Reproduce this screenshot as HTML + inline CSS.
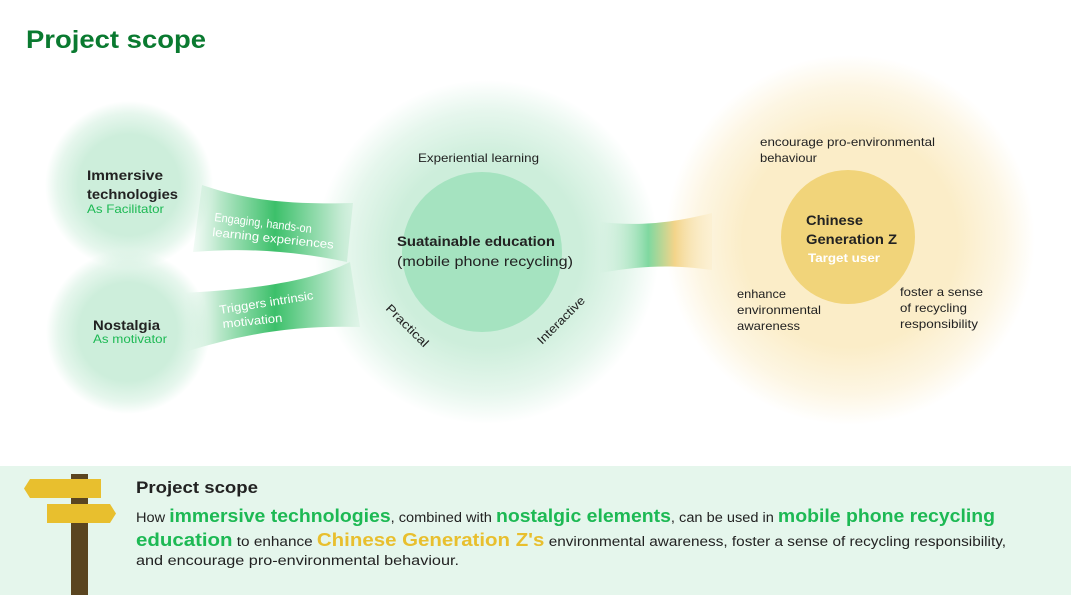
<!DOCTYPE html>
<html><head><meta charset="utf-8"><style>
html,body{margin:0;padding:0;background:#fff;}
svg{display:block;font-family:"Liberation Sans",sans-serif;}
</style></head><body>
<svg width="1071" height="595" viewBox="0 0 1071 595" xmlns="http://www.w3.org/2000/svg">
<defs>
<radialGradient id="gs" cx="50%" cy="50%" r="50%">
<stop offset="0" stop-color="#cdeedb"/><stop offset="0.6" stop-color="#cdeedb"/><stop offset="0.85" stop-color="#cdeedb" stop-opacity="0.5"/><stop offset="1" stop-color="#cdeedb" stop-opacity="0"/>
</radialGradient>
<radialGradient id="gb" cx="50%" cy="50%" r="50%">
<stop offset="0" stop-color="#cdeedb"/><stop offset="0.55" stop-color="#cdeedb"/><stop offset="0.82" stop-color="#cdeedb" stop-opacity="0.5"/><stop offset="1" stop-color="#cdeedb" stop-opacity="0"/>
</radialGradient>
<radialGradient id="yb" cx="50%" cy="50%" r="50%">
<stop offset="0" stop-color="#fbedc8"/><stop offset="0.58" stop-color="#fbedc8"/><stop offset="0.83" stop-color="#fbedc8" stop-opacity="0.5"/><stop offset="1" stop-color="#fbedc8" stop-opacity="0"/>
</radialGradient>
<linearGradient id="bandL" x1="185" x2="365" y1="0" y2="0" gradientUnits="userSpaceOnUse">
<stop offset="0" stop-color="#cdeedb" stop-opacity="0"/><stop offset="0.2" stop-color="#b5e6c7"/><stop offset="0.5" stop-color="#3cc06a"/><stop offset="0.85" stop-color="#bfe9cf"/><stop offset="1" stop-color="#cdeedb" stop-opacity="0.2"/>
</linearGradient>
<linearGradient id="bandR" x1="600" x2="715" y1="0" y2="0" gradientUnits="userSpaceOnUse">
<stop offset="0" stop-color="#cdeedb" stop-opacity="0.1"/><stop offset="0.42" stop-color="#7fd8a0"/><stop offset="0.65" stop-color="#f3d48a"/><stop offset="1" stop-color="#fbedc8" stop-opacity="0.3"/>
</linearGradient>
</defs>

<text x="26" y="48" font-size="25" font-weight="bold" fill="#0a7a30" textLength="180" lengthAdjust="spacingAndGlyphs">Project scope</text>

<circle cx="129" cy="185" r="84" fill="url(#gs)"/>
<circle cx="128" cy="332" r="82" fill="url(#gs)"/>
<circle cx="487" cy="252" r="172" fill="url(#gb)"/>
<circle cx="850" cy="240" r="185" fill="url(#yb)"/>

<path d="M202,185 C240,198 280,205 353,203 L347,262 C290,250 240,248 193,252 Z" fill="url(#bandL)"/>
<path d="M180,293 C250,290 310,282 350,262 L360,327 C290,325 240,335 185,352 Z" fill="url(#bandL)"/>
<path d="M600,222 C630,225 660,226 712,213 L712,270 C670,264 640,266 600,273 Z" fill="url(#bandR)"/>

<circle cx="482" cy="252" r="80" fill="#a5e3c0"/>
<circle cx="848" cy="237" r="67" fill="#f1d47a"/>

<g fill="#222" font-size="14" font-weight="bold">
<text x="87" y="180" textLength="76" lengthAdjust="spacingAndGlyphs">Immersive</text>
<text x="87" y="199" textLength="91" lengthAdjust="spacingAndGlyphs">technologies</text>
<text x="93" y="330" textLength="67" lengthAdjust="spacingAndGlyphs">Nostalgia</text>
</g>
<g fill="#1db954" font-size="12">
<text x="87" y="213" textLength="77" lengthAdjust="spacingAndGlyphs">As Facilitator</text>
<text x="93" y="343" textLength="74" lengthAdjust="spacingAndGlyphs">As motivator</text>
</g>
<g fill="#fff" font-size="12">
<text x="214" y="221" transform="rotate(7 214 221)" textLength="98" lengthAdjust="spacingAndGlyphs">Engaging, hands-on</text>
<text x="212" y="236" transform="rotate(6 212 236)" textLength="122" lengthAdjust="spacingAndGlyphs">learning experiences</text>
<text x="220" y="314" transform="rotate(-9 220 314)" textLength="95" lengthAdjust="spacingAndGlyphs">Triggers intrinsic</text>
<text x="223" y="328" transform="rotate(-6 223 328)" textLength="60" lengthAdjust="spacingAndGlyphs">motivation</text>
</g>

<g fill="#222">
<text x="418" y="162" font-size="12" textLength="121" lengthAdjust="spacingAndGlyphs">Experiential learning</text>
<text x="397" y="246" font-size="14" font-weight="bold" textLength="158" lengthAdjust="spacingAndGlyphs">Suatainable education</text>
<text x="397" y="266" font-size="14" textLength="176" lengthAdjust="spacingAndGlyphs">(mobile phone recycling)</text>
<text x="385" y="309" font-size="12" transform="rotate(45 385 309)" textLength="55" lengthAdjust="spacingAndGlyphs">Practical</text>
<text x="542" y="345" font-size="12" transform="rotate(-45 542 345)" textLength="62" lengthAdjust="spacingAndGlyphs">Interactive</text>
</g>

<g fill="#222" font-size="12">
<text x="760" y="146" textLength="175" lengthAdjust="spacingAndGlyphs">encourage pro-environmental</text>
<text x="760" y="162" textLength="57" lengthAdjust="spacingAndGlyphs">behaviour</text>
<text x="737" y="298" textLength="49" lengthAdjust="spacingAndGlyphs">enhance</text>
<text x="737" y="314" textLength="84" lengthAdjust="spacingAndGlyphs">environmental</text>
<text x="737" y="330" textLength="63" lengthAdjust="spacingAndGlyphs">awareness</text>
<text x="900" y="296" textLength="83" lengthAdjust="spacingAndGlyphs">foster a sense</text>
<text x="900" y="312" textLength="67" lengthAdjust="spacingAndGlyphs">of recycling</text>
<text x="900" y="328" textLength="78" lengthAdjust="spacingAndGlyphs">responsibility</text>
</g>
<g font-size="14" font-weight="bold">
<text x="806" y="225" fill="#222" textLength="57" lengthAdjust="spacingAndGlyphs">Chinese</text>
<text x="806" y="244" fill="#222" textLength="91" lengthAdjust="spacingAndGlyphs">Generation Z</text>
<text x="808" y="262" fill="#fff" font-size="12" textLength="72" lengthAdjust="spacingAndGlyphs">Target user</text>
</g>

<rect x="0" y="466" width="1071" height="129" fill="#e5f6ec"/>
<rect x="71" y="474" width="17" height="121" fill="#5a4520"/>
<path d="M30,479 L101,479 L101,498 L30,498 L24,488.5 Z" fill="#e8bf2e"/>
<path d="M47,504 L110,504 L116,513.5 L110,523 L47,523 Z" fill="#e8bf2e"/>

<text x="136" y="493" font-size="17" font-weight="bold" fill="#222" textLength="122" lengthAdjust="spacingAndGlyphs">Project scope</text>
<g font-size="13.5" fill="#222">
<text x="136" y="522" textLength="859" lengthAdjust="spacingAndGlyphs">How <tspan fill="#1db954" font-size="18" font-weight="bold">immersive technologies</tspan>, combined with <tspan fill="#1db954" font-size="18" font-weight="bold">nostalgic elements</tspan>, can be used in <tspan fill="#1db954" font-size="18" font-weight="bold">mobile phone recycling</tspan></text>
<text x="136" y="546" textLength="870" lengthAdjust="spacingAndGlyphs"><tspan fill="#1db954" font-size="18" font-weight="bold">education</tspan> to enhance <tspan fill="#e8bf2e" font-size="18" font-weight="bold">Chinese Generation Z's</tspan> environmental awareness, foster a sense of recycling responsibility,</text>
<text x="136" y="565" textLength="323" lengthAdjust="spacingAndGlyphs">and encourage pro-environmental behaviour.</text>
</g>
</svg>
</body></html>
